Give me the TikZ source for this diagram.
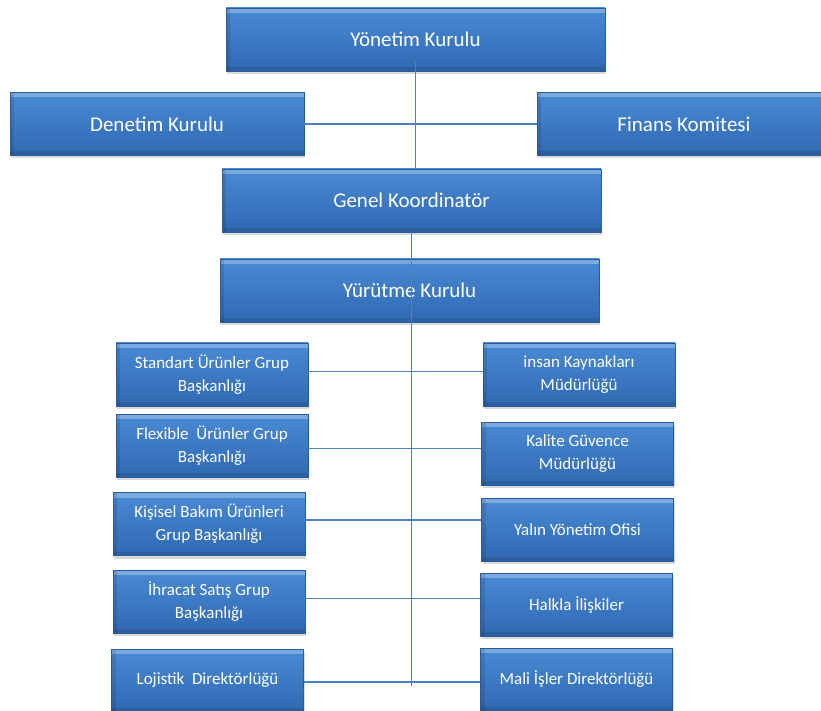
\documentclass[tikz,border=0pt]{standalone}
\usepackage{fontspec}
\setmainfont{Carlito}
\usetikzlibrary{calc,shadows}

\definecolor{boxtop}{HTML}{4A8AD4}
\definecolor{boxbot}{HTML}{2F69B2}
\definecolor{boxline}{HTML}{2A5C9C}
\definecolor{linkblue}{HTML}{4F81BD}

\tikzset{
  unit/.style={draw=boxline, line width=0.6pt, top color=boxtop, bottom color=boxbot,
    text=white, inner sep=2pt,
    drop shadow={opacity=0.3, shadow xshift=1pt, shadow yshift=-3pt},
    path picture={
      \fill[white,opacity=0.28] (path picture bounding box.north west) rectangle ($(path picture bounding box.north east)+(0,-5)$);
      \fill[black,opacity=0.1] (path picture bounding box.south west) rectangle ($(path picture bounding box.south east)+(0,4)$);
      \fill[black,opacity=0.1] (path picture bounding box.south west) rectangle ($(path picture bounding box.north west)+(4,0)$);
    }},
  bigunit/.style={unit, minimum width=379pt, minimum height=63pt, font=\fontsize{21}{25}\selectfont},
  smallunit/.style={unit, minimum width=192pt, minimum height=63pt, align=center, font=\fontsize{17}{23}\selectfont},
  link/.style={draw=linkblue, line width=1.2pt}
}

\begin{document}
\begin{tikzpicture}[x=1pt,y=1pt]
\useasboundingbox (0,0) rectangle (821,710);

\node[bigunit] (yonetim) at (415.5,670.5) {Yönetim Kurulu};
\node[bigunit, minimum width=294pt] (denetim) at (157,586) {Denetim Kurulu};
\node[bigunit, minimum width=294pt] (finans) at (684,586) {Finans Komitesi};
\node[bigunit] (genel) at (411.5,509.5) {Genel Koordinatör};
\node[bigunit] (yurutme) at (409.5,419.5) {Yürütme Kurulu};

\node[smallunit] (standart) at (212,335.5) {Standart Ürünler Grup\\Başkanlığı};
\node[smallunit] (flexible) at (212,264.5) {Flexible~~Ürünler Grup\\Başkanlığı};
\node[smallunit] (kisisel) at (209,186) {Kişisel Bakım Ürünleri\\Grup Başkanlığı};
\node[smallunit] (ihracat) at (209,108.5) {İhracat Satış Grup\\Başkanlığı};
\node[smallunit] (lojistik) at (207.5,29.5) {Lojistik~~Direktörlüğü};

\node[smallunit] (insan) at (579,335.5) {insan Kaynakları\\Müdürlüğü};
\node[smallunit] (kalite) at (577.5,256.5) {Kalite Güvence\\Müdürlüğü};
\node[smallunit] (yalin) at (577.5,180.5) {Yalın Yönetim Ofisi};
\node[smallunit] (halkla) at (576.5,105.5) {Halkla İlişkiler};
\node[smallunit] (mali) at (576.5,30.5) {Mali İşler Direktörlüğü};

\coordinate (trunktop) at ($(yonetim.south)+(0,9)$);
\coordinate (trunkend) at (411.5,24);
\coordinate (standartout) at ($(standart.east)+(0,3)$);
\coordinate (flexibleout) at ($(flexible.east)+(0,-3)$);
\coordinate (kisiselout) at ($(kisisel.east)+(0,4)$);
\coordinate (ihracatout) at ($(ihracat.east)+(0,3)$);
\coordinate (lojistikout) at ($(lojistik.east)+(0,-1.5)$);

\draw[link] (trunktop) -- (trunktop |- genel.north);
\draw[link] (denetim.east) -- (finans.west);
\draw[link] (genel.south) -- (trunkend);

\draw[link] (standartout) -- (standartout -| insan.west);
\draw[link] (flexibleout) -- (flexibleout -| kalite.west);
\draw[link] (kisiselout) -- (kisiselout -| yalin.west);
\draw[link] (ihracatout) -- (ihracatout -| halkla.west);
\draw[link] (lojistikout) -- (lojistikout -| mali.west);

\end{tikzpicture}
\end{document}
